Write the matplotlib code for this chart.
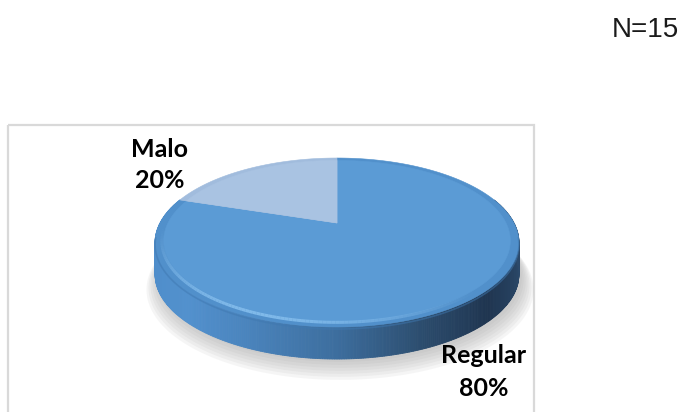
import numpy as np
import matplotlib
matplotlib.use("Agg")
import matplotlib.pyplot as plt
from matplotlib.colors import LinearSegmentedColormap
from matplotlib.patches import Polygon, Rectangle

# data
labels = ["Regular", "Malo"]
values = [80, 20]
n_total = 15

slice_colors = ["#5B9BD5", "#A9C3E2"]
ring_colors = ["#5190CB", "#A1BCDD"]

# pie geometry (pixels), simple perspective
cx, cy = 337, 223
a, b, p = 177, 80, 0.231
depth = 32


def proj(theta, r=1.0, dz=0.0):
    u = r * np.cos(theta)
    v = r * np.sin(theta)
    f = 1.0 / (1.0 + p * v)
    return cx + a * u * f, cy - b * v * f + dz


fig = plt.figure(figsize=(6.85, 4.12), dpi=100)
ax = fig.add_axes([0, 0, 1, 1])
ax.set_xlim(0, 685)
ax.set_ylim(412, 0)
ax.axis("off")

# chart frame
ax.add_patch(Rectangle((8, 125), 526, 300, fill=False, ec="#D9D9D9", lw=1.6))

# soft shadow
th = np.linspace(0, 2 * np.pi, 400)
for k in range(7):
    sx, sy = proj(th, 1.0 + 0.01 * k, depth + 3 + 1.6 * k)
    ax.add_patch(Polygon(np.c_[sx + 3, sy], closed=True, fc="#9A9A9A",
                         ec="none", alpha=0.09))

# side of the pie
side_cmap = LinearSegmentedColormap.from_list("side", [
    (0.00, "#4F8DCA"), (0.15, "#5291CE"), (0.30, "#4A84BD"),
    (0.50, "#3D6E9E"), (0.70, "#2B4B6C"), (0.86, "#1F3550"),
    (1.00, "#2C4A6B")])
n_seg = 360
ts = np.linspace(np.pi * 0.9, np.pi * 2.1, n_seg + 1)
for i in range(n_seg):
    t1, t2 = ts[i], ts[i + 1]
    x1, y1 = proj(t1)
    x2, y2 = proj(t2)
    x3, y3 = proj(t2, dz=depth)
    x4, y4 = proj(t1, dz=depth)
    tc = (np.cos(0.5 * (t1 + t2)) + 1) / 2
    ax.add_patch(Polygon([(x1, y1), (x2, y2), (x3, y3), (x4, y4)],
                         closed=True, fc=side_cmap(tc), ec=side_cmap(tc),
                         lw=0.6))

# top face wedges, clockwise from 12 o'clock
start = np.pi / 2
angles = [start]
for v in values:
    angles.append(angles[-1] - 2 * np.pi * v / sum(values))

for i in range(len(values)):
    tt = np.linspace(angles[i], angles[i + 1], 200)
    for r, col in [(1.0, ring_colors[i]), (0.955, slice_colors[i])]:
        xs, ys = proj(tt, r)
        pts = np.r_[[[cx, cy]], np.c_[xs, ys]]
        ax.add_patch(Polygon(pts, closed=True, fc=col, ec=col, lw=0.4))

# bevel highlight on the front-left edge
hl = np.linspace(np.pi * 1.0, np.pi * 1.75, 120)
for j in range(len(hl) - 1):
    xs, ys = proj(hl[j:j + 2], 0.965)
    w = np.sin((hl[j] - np.pi) / (0.75 * np.pi) * np.pi) ** 1.5
    ax.plot(xs, ys, color="#8FC7F4", lw=2.2, alpha=0.75 * w,
            solid_capstyle="butt")

# darker lower lip of the top face
lip = np.linspace(np.pi * 1.05, np.pi * 1.95, 200)
xs, ys = proj(lip, 1.0, 2)
ax.plot(xs, ys, color="#3F78B0", lw=1.2, alpha=0.5)

# labels
lab_font = dict(family=["Lato", "DejaVu Sans"], fontweight="bold",
                fontsize=18, color="#000000", ha="center", va="baseline")
ax.text(160, 157, labels[1], **lab_font)
ax.text(160, 188, f"{values[1]}%", **lab_font)
ax.text(484, 363, labels[0], **lab_font)
ax.text(484, 396, f"{values[0]}%", **lab_font)

ax.text(679, 37, f"N={n_total}", family=["Liberation Sans", "DejaVu Sans"],
        fontsize=20, color="#1A1A1A", ha="right", va="baseline")

fig.savefig("out.png", dpi=100)
